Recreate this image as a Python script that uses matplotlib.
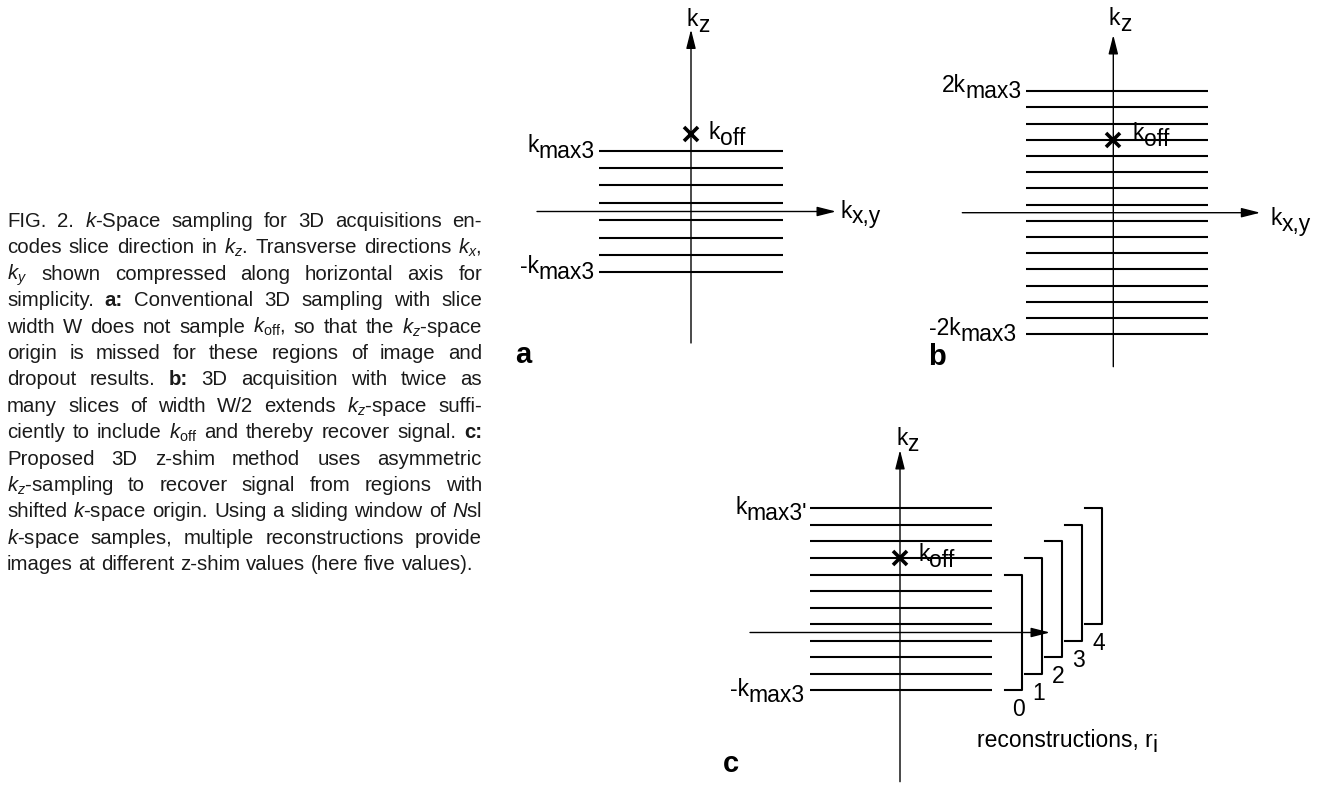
import matplotlib
matplotlib.use('Agg')
import matplotlib.pyplot as plt
from matplotlib.transforms import offset_copy

plt.rcParams['font.family'] = ['Liberation Sans', 'DejaVu Sans']
plt.rcParams['mathtext.fontset'] = 'custom'
plt.rcParams['mathtext.rm'] = 'Liberation Sans'
plt.rcParams['mathtext.it'] = 'Liberation Sans:italic'
plt.rcParams['mathtext.bf'] = 'Liberation Sans:bold'

W, H = 1326, 789

# kz sample positions, in units of the slice step of each panel
kz_a = [3.5, 2.5, 1.5, 0.5, -0.5, -1.5, -2.5, -3.5]
kz_b = [7.5, 6.5, 5.5, 4.5, 3.5, 2.5, 1.5, 0.5,
        -0.5, -1.5, -2.5, -3.5, -4.5, -5.5, -6.5, -7.5]
kz_c = [7.5, 6.5, 5.5, 4.5, 3.5, 2.5, 1.5, 0.5, -0.5, -1.5, -2.5, -3.5]
koff_a = 4.45
koff_b = 4.5
koff_c = 4.5

# sliding window reconstructions (panel c): first and last sample of each window
recon = ['0', '1', '2', '3', '4']
recon_lo = [-3.5, -2.5, -1.5, -0.5, 0.5]
recon_hi = [3.5, 4.5, 5.5, 6.5, 7.5]

caption = [
    r"FIG. 2. $k$-Space sampling for 3D acquisitions en-",
    r"codes slice direction in $k_z$. Transverse directions $k_x$,",
    r"$k_y$ shown compressed along horizontal axis for",
    r"simplicity. a: Conventional 3D sampling with slice",
    r"width W does not sample $k_{\mathrm{off}}$, so that the $k_z$-space",
    r"origin is missed for these regions of image and",
    r"dropout results. b: 3D acquisition with twice as",
    r"many slices of width W/2 extends $k_z$-space suffi-",
    r"ciently to include $k_{\mathrm{off}}$ and thereby recover signal. c:",
    r"Proposed 3D z-shim method uses asymmetric",
    r"$k_z$-sampling to recover signal from regions with",
    r"shifted $k$-space origin. Using a sliding window of $N$sl",
    r"$k$-space samples, multiple reconstructions provide",
    r"images at different z-shim values (here five values).",
]
bold_words = ['a:', 'b:', 'c:']

CAP = 14.7
LBL = 16.5
SUBDROP = 6
INK = '#1a1a1a'

fig = plt.figure(figsize=(W / 100, H / 100), dpi=100)
page = fig.add_axes([0, 0, 1, 1])
page.set_xlim(0, W)
page.set_ylim(H, 0)
page.axis('off')


def klabel(ax, x, y, main, sub, dx=0, dy=0, ha='left'):
    # main text plus a same-size, lowered "subscript"; dx, dy in px (dy down)
    if ha == 'left':
        tr = offset_copy(ax.transData, fig=fig, x=dx, y=-dy, units='dots')
        t = ax.text(x, y, main, transform=tr, ha='left', va='baseline', fontsize=LBL)
        ax.annotate(sub, xy=(1, 0), xycoords=t, xytext=(0, -SUBDROP),
                    textcoords='offset pixels', ha='left', va='bottom', fontsize=LBL)
    else:
        tr = offset_copy(ax.transData, fig=fig, x=dx, y=-dy - SUBDROP, units='dots')
        s = ax.text(x, y, sub, transform=tr, ha='right', va='baseline', fontsize=LBL)
        ax.annotate(main, xy=(0, 0), xycoords=s, xytext=(0, SUBDROP),
                    textcoords='offset pixels', ha='right', va='bottom', fontsize=LBL)


def arrow(ax, x0, y0, x1, y1):
    ax.annotate('', xy=(x1, y1), xytext=(x0, y0), annotation_clip=False,
                arrowprops=dict(arrowstyle='-|>,head_length=1.15,head_width=0.29',
                                mutation_scale=10, lw=1.0, color='k',
                                shrinkA=0, shrinkB=0))


def panel(ox, oy, step, vbot, vtip, hl, hr, kz, sl, sr, koff):
    # ox, oy: origin (px), step: px per kz sample; x in px from the origin
    ax = fig.add_axes([(ox - 250) / W, (H - (oy + 11 * step)) / H,
                       500 / W, 24 * step / H])
    ax.set_xlim(-250, 250)
    ax.set_ylim(-11, 13)
    ax.axis('off')
    v0 = (oy - vbot) / step
    v1 = (oy - vtip) / step
    arrow(ax, 0, v0, 0, v1)
    arrow(ax, hl, 0, hr, 0)
    ax.hlines(kz, sl, sr, colors='k', lw=1.5, clip_on=False)
    ax.plot([0], [koff], marker='x', ms=10, mew=2.6, color='k', clip_on=False)
    return ax, v1


# ---- a ----
ax, tip = panel(691, 211.5, 17.4, 343, 29.5, -154, 145, kz_a, -92, 92, koff_a)
klabel(ax, -92, kz_a[0], 'k', 'max3', dx=-4, dy=1, ha='right')
klabel(ax, -92, kz_a[-1], '-k', 'max3', dx=-4, dy=1, ha='right')
klabel(ax, 0, koff_a, 'k', 'off', dx=18, dy=5)
klabel(ax, 0, tip, 'k', 'z', dx=-4, dy=-3)
klabel(ax, 145, 0, 'k', 'x,y', dx=4, dy=6)

# ---- b ----
ax, tip = panel(1113.3, 212.7, 16.2, 366.7, 35, -151, 147, kz_b, -87.5, 95, koff_b)
klabel(ax, -87.5, kz_b[0], '2k', 'max3', dx=-4, dy=1, ha='right')
klabel(ax, -87.5, kz_b[-1], '-2k', 'max3', dx=-9, dy=1, ha='right')
klabel(ax, 0, koff_b, 'k', 'off', dx=19, dy=0)
klabel(ax, 0, tip, 'k', 'z', dx=-5, dy=-10)
klabel(ax, 147, 0, 'k', 'x,y', dx=10, dy=12)

# ---- c ----
ax, tip = panel(900, 632.5, 16.55, 781.7, 450, -150, 150, kz_c, -90, 92, koff_c)
klabel(ax, -90, kz_c[0], 'k', "max3'", dx=-3, dy=6, ha='right')
klabel(ax, -90, kz_c[-1], '-k', 'max3', dx=-5, dy=6, ha='right')
klabel(ax, 0, koff_c, 'k', 'off', dx=18, dy=3)
klabel(ax, 0, tip, 'k', 'z', dx=-4, dy=-5)
for i, (name, lo, hi) in enumerate(zip(recon, recon_lo, recon_hi)):
    xv = 122 + 20 * i
    ax.plot([xv - 17, xv, xv, xv - 17], [hi, hi, lo, lo], color='k', lw=1.5,
            clip_on=False)
    tr = offset_copy(ax.transData, fig=fig, x=0, y=-26, units='dots')
    ax.text(xv - 3.5, lo, name, transform=tr, ha='center', va='baseline',
            fontsize=LBL)

t = page.text(977, 747, 'reconstructions, r', ha='left', va='baseline', fontsize=LBL)
page.annotate('i', xy=(1, 0), xycoords=t, xytext=(0, -5), textcoords='offset pixels',
              ha='left', va='bottom', fontsize=LBL)

for lab, x, y in [('a', 515, 363), ('b', 928, 365), ('c', 723, 772)]:
    page.text(x, y, lab, fontsize=21, fontweight='bold', ha='left', va='baseline')

# ---- caption, justified ----
renderer = fig.canvas.get_renderer()
cap_x0, cap_x1 = 7, 482
cap_y0, cap_dy = 227, 26.4
for i, line in enumerate(caption):
    words = line.split()
    y = cap_y0 + i * cap_dy
    ts = [page.text(0, y, w, fontsize=CAP, color=INK, va='baseline',
                    fontweight='bold' if w in bold_words else 'normal') for w in words]
    widths = [tt.get_window_extent(renderer).width for tt in ts]
    if i < len(caption) - 1:
        gap = (cap_x1 - cap_x0 - sum(widths)) / (len(words) - 1)
    else:
        gap = CAP * 100 / 72 * 0.278
    x = cap_x0
    for tt, w in zip(ts, widths):
        tt.set_x(x)
        x += w + gap

fig.savefig('out.png', dpi=100)
